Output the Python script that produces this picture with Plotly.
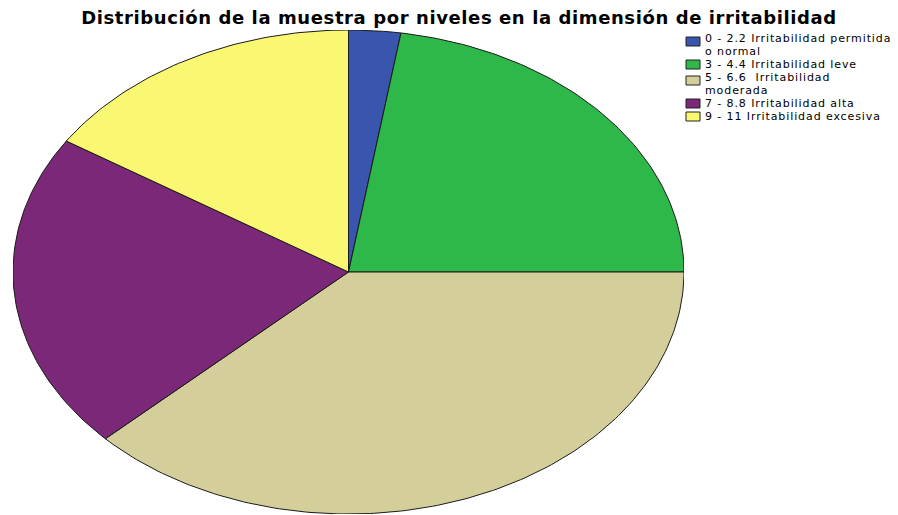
import numpy as np
import plotly.graph_objects as go

categories = [
    "0 - 2.2 Irritabilidad permitida<br>o normal",
    "3 - 4.4 Irritabilidad leve",
    "5 - 6.6  Irritabilidad<br>moderada",
    "7 - 8.8 Irritabilidad alta",
    "9 - 11 Irritabilidad excesiva",
]
percentages = [2.5, 22.5, 37.9, 21.2, 15.9]
colors = ["#3a55ad", "#2fb84a", "#d4cf9a", "#7b2878", "#faf772"]
title_text = "Distribución de la muestra por niveles en la dimensión de irritabilidad"

# page body adds an 8px offset; work in screen pixels and convert
OFF = 8
W, H = 898 - OFF, 515 - OFF


def px(X):
    return (X - OFF) / W


def py(Y):
    return 1 - (Y - OFF) / H


# ellipse placement (screen pixels)
left, right, top, bottom = 13, 684, 30, 514

fig = go.Figure()
vals = np.array(percentages, dtype=float)
frac = np.cumsum(vals) / vals.sum()
starts = np.concatenate([[0.0], frac[:-1]])
for i, (a0, a1) in enumerate(zip(starts, frac)):
    th = np.linspace(a0, a1, max(3, int((a1 - a0) * 400))) * 2 * np.pi
    xs = np.concatenate([[0.0], np.sin(th), [0.0]])
    ys = np.concatenate([[0.0], np.cos(th), [0.0]])
    fig.add_trace(go.Scatter(
        x=xs, y=ys, mode="lines", fill="toself", fillcolor=colors[i],
        line=dict(color="#1a1a1a", width=1), hoverinfo="skip", showlegend=False,
    ))

# manual legend (compact, like the source)
shapes, annotations = [], []
line_y = 38.5
line_pitch = 13.0
for i, label in enumerate(categories):
    lines = label.split("<br>")
    sw_c = line_y + (3 if len(lines) > 1 else 0)
    shapes.append(dict(type="rect", xref="paper", yref="paper",
                       x0=px(686), x1=px(700), y0=py(sw_c - 4.5), y1=py(sw_c + 4.5),
                       fillcolor=colors[i], line=dict(color="#222222", width=1)))
    for t in lines:
        annotations.append(dict(text='<span style="letter-spacing:0.9px">' + t + "</span>",
                                xref="paper", yref="paper", x=px(703), y=py(line_y),
                                xanchor="left", yanchor="middle", showarrow=False,
                                font=dict(family="DejaVu Sans", size=11, color="black")))
        line_y += line_pitch

fig.update_layout(
    width=W, height=H,
    margin=dict(l=0, r=0, t=0, b=0),
    paper_bgcolor="white", plot_bgcolor="white",
    title=dict(text='<span style="letter-spacing:0.6px">' + title_text + "</span>",
               x=px(459), xanchor="center", y=py(18), yanchor="middle",
               font=dict(family="DejaVu Sans", size=18, color="black", weight="bold")),
    xaxis=dict(domain=[px(left), px(right)], range=[-1, 1], visible=False, fixedrange=True),
    yaxis=dict(domain=[py(bottom), py(top)], range=[-1, 1], visible=False, fixedrange=True),
    shapes=shapes, annotations=annotations,
    showlegend=False,
)
fig.write_html("out.html")
